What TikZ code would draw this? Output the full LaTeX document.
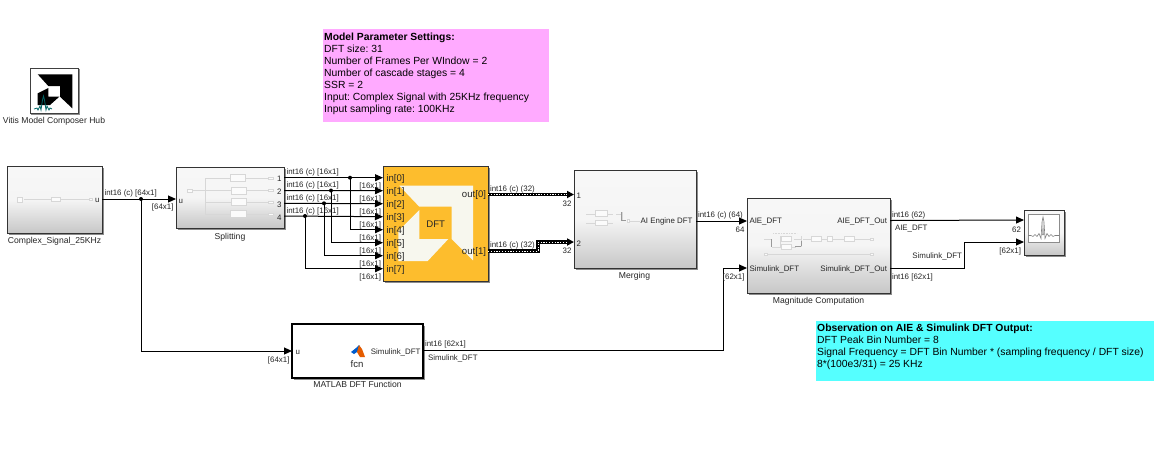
\documentclass[tikz,border=0pt]{standalone}
\usepackage{fontspec}
\setmainfont{Liberation Sans}
\usetikzlibrary{arrows.meta}
\frenchspacing
\definecolor{amdorange}{RGB}{253,189,45}
\definecolor{cream}{RGB}{247,247,238}
\definecolor{pinkbox}{RGB}{255,170,255}
\definecolor{cyanbox}{RGB}{85,255,255}
\definecolor{thumb}{RGB}{215,215,215}
\tikzset{
  lbl/.style={font=\fontsize{7.9}{10}\selectfont,text=black!85,inner sep=0pt,outer sep=0pt,yshift=-1pt},
  lblw/.style={lbl,anchor=west},
  lble/.style={lbl,anchor=east},
  captxt/.style={lbl,anchor=north,font=\fontsize{8.6}{10}\selectfont},
  portt/.style={lbl},
  dftp/.style={lblw,font=\fontsize{9.6}{11}\selectfont},
  sig/.style={draw=black,line width=1pt,-{Triangle[length=8pt,width=7pt]}},
  bus/.style={draw=black,line width=3.2pt,-{Triangle[length=7pt,width=7pt]}},
  busin/.style={draw=white,line width=1pt,dash pattern=on 1.2pt off 1.6pt},
  jdot/.style={circle,fill=black,inner sep=0pt,minimum size=4pt},
  note/.style={anchor=north west,inner sep=0pt,align=left,font=\fontsize{10.35}{12}\selectfont},
  th/.style={draw=thumb,line width=.6pt,fill=white!90!thumb},
  thl/.style={draw=thumb,line width=.6pt},
  thd/.style={draw=black!40,line width=.4pt},
}
\newcommand{\sblock}[5]{% name x1 y1 x2 y2
  \fill[black!45] (#2+1.5,#3+1.5) rectangle (#4+1.5,#5+1.5);
  \shade[top color=white!97!black,bottom color=black!22,middle color=black!4,draw=black!80,line width=1pt]
    (#2,#3) rectangle (#4,#5);
  \coordinate (#1nw) at (#2,#3);
}
\begin{document}
\begin{tikzpicture}[x=1pt,y=-1pt]
\useasboundingbox (0,0) rectangle (1161,451);
\fill[white] (0,0) rectangle (1161,451);

% notes
\node[note,fill=pinkbox,minimum width=226pt,minimum height=93pt,text depth=0pt] (pink) at (323,29) {};
\node[note] (pinktxt) at (324,32.5) {\textbf{Model Parameter Settings:}\\DFT size: 31\\Number of Frames Per WIndow = 2\\Number of cascade stages = 4\\SSR = 2\\Input: Complex Signal with 25KHz frequency\\Input sampling rate: 100KHz};
\node[note,fill=cyanbox,minimum width=338pt,minimum height=60pt] (cyan) at (816,321) {};
\node[note] (cyantxt) at (817,324) {\textbf{Observation on AIE \& Simulink DFT Output:}\\DFT Peak Bin Number = 8\\Signal Frequency = DFT Bin Number * (sampling frequency / DFT size)\\8*(100e3/31) = 25 KHz};

% hub
\fill[black!45] (31,69) rectangle (79.5,114.5);
\draw[black!75,line width=1pt,fill=white] (30,68) rectangle (78,113);
\fill[black] (37.7,74.3) -- (72.3,74.3) -- (72.3,108.3) -- (60,96.7) -- (60,86) -- (48.3,86) -- cycle;
\fill[black] (48.3,88) -- (48.3,96.7) -- (59.3,96.7) -- (50,105) -- (37.7,105) -- (37.7,93.3) -- cycle;
\draw[teal!80!black,line width=.8pt] (34,109) -- (37,108) -- (38,110) -- (40,106) -- (41,110) -- (42.5,100) -- (43.5,96) -- (44.5,100) -- (46,110) -- (47,106) -- (49,110) -- (50,108) -- (52,109);
\node[captxt] (hubcap) at (54,116.5) {Vitis Model Composer Hub};

% Complex signal
\sblock{cs}{7}{166}{102}{233}
\draw[thl] (24,199) -- (51,199) (60,199) -- (90,199);
\draw[th] (17,197) rectangle (22.5,202);
\draw[th] (51,197) rectangle (60.5,201.5);
\draw[th] (89.5,198) rectangle (92.5,200);
\node[portt,anchor=east] (csu) at (99.5,199.5) {u};
\coordinate (csout) at (102,199);
\node[captxt] (cscap) at (54.5,236) {Complex\_Signal\_25KHz};

% Splitting
\sblock{sp}{176}{167}{284}{228}
\draw[thl] (192,190.5) -- (205,190.5) (205,178) -- (205,214) (205,178) -- (230,178) (205,190.5) -- (231,190.5) (205,202) -- (231,202) (205,214) -- (230,214);
\draw[thl] (245,178) -- (268,178) (247,190.5) -- (268,190.5) (247,202) -- (268,202) (246,214) -- (268,214);
\draw[th] (187,189) rectangle (192.5,192);
\foreach \yy/\xa/\xb in {178/230.5/245.5,190.5/231.5/246.5,202/231.5/246.5,214/230.5/246}{\draw[th] (\xa,\yy-3.5) rectangle (\xb,\yy+3.5);\draw[th] (268,\yy-1) rectangle (273,\yy+1);}
\node[portt,anchor=west] (spu) at (178.5,200) {u};
\node[portt,anchor=east] (sp1) at (281.5,178) {1};
\node[portt,anchor=east] (sp2) at (281.5,191) {2};
\node[portt,anchor=east] (sp3) at (281.5,204) {3};
\node[portt,anchor=east] (sp4) at (281.5,216.5) {4};
\coordinate (spin) at (176,199);
\coordinate (spo1) at (284,177.7);
\coordinate (spo2) at (284,190.5);
\coordinate (spo3) at (284,203.3);
\coordinate (spo4) at (284,216);
\node[captxt] (spcap) at (230,232) {Splitting};

% DFT block
\fill[black!45] (384.5,167.5) rectangle (489.5,282.5);
\draw[draw=black!80,fill=amdorange,line width=1pt] (383,166) rectangle (488,281);
\fill[cream] (399.3,185.7) -- (473,185.7) -- (473,260.3) -- (451.7,239) -- (451.7,206.7) -- (419.3,206.7) -- cycle;
\fill[cream] (419.3,210) -- (419.3,239) -- (448.3,239) -- (427.7,261) -- (398.3,261) -- (398.3,231) -- cycle;
\node[lbl,font=\fontsize{9.6}{11}\selectfont] (dftname) at (435.7,223) {DFT};
\foreach \i/\yy in {0/178,1/191,2/204,3/217,4/230,5/243,6/256,7/269}{
  \node[dftp] (inl\i) at (386.5,\yy) {in[\i]};
  \coordinate (dftin\i) at (383,\yy-.3);
  \node[lble] (dl\i) at (381,\yy+7.5) {[16x1]};
}
\node[lble,font=\fontsize{9.6}{11}\selectfont] (o0) at (486,194.5) {out[0]};
\node[lble,font=\fontsize{9.6}{11}\selectfont] (o1) at (486,251.5) {out[1]};
\coordinate (dfto0) at (488,194.5);
\coordinate (dfto1) at (488,251);

% Merging
\sblock{mg}{574}{170}{696}{268}
\draw[thl] (586,214) -- (595,214) (607,214) -- (613,214) (616,214) -- (622,214) (622,212) -- (622,220) (627,221) -- (640,221) (586,223) -- (595,223) (607,223) -- (613,223);
\draw[th] (595,210.5) rectangle (607,216.5);
\draw[th] (595,220.5) rectangle (607,225.5);
\draw[th] (627,219.5) rectangle (629,222.5);
\draw[thd] (621.5,212) -- (621.5,220) -- (626,220);
\node[portt,anchor=east] (mgout) at (692.5,220.5) {AI Engine DFT};
\node[portt,anchor=west] (mg1) at (576.5,195) {1};
\node[portt,anchor=west] (mg2) at (576.5,243) {2};
\coordinate (mgi1) at (574,195);
\coordinate (mgi2) at (574,242);
\coordinate (mgo) at (696,221);
\node[captxt] (mgcap) at (634.5,271) {Merging};

% Magnitude
\sblock{mc}{747}{198}{890}{293}
\draw[thl] (764,239) -- (772,239) (780,236) -- (780,248) (780,239) -- (781,239) (794,239) -- (801,239) (801,236) -- (801,247) (803,239) -- (811,239) (821,239) -- (827,239) (832,239) -- (844,239) (854,239) -- (870,239) (765,254.5) -- (870,254.5) (772,247) -- (781,247) (791,247) -- (796,247);
\draw[thl,densely dotted] (773,233) -- (797,233);
\draw[thd] (771,239) -- (771,247) (795,246) -- (801,246) (801,241) -- (801,246);
\draw[th] (781,236.5) rectangle (791,241.5);
\draw[th] (781,244.5) rectangle (791,249.5);
\draw[th] (811,236.5) rectangle (821,241.5);
\draw[th] (827,236.5) rectangle (832,241.5);
\draw[th] (844,236.5) rectangle (854,241.5);
\draw[th] (870,238) rectangle (873,240);
\draw[th] (764,253.5) rectangle (767,255.5);
\draw[th] (870,253.5) rectangle (873,255.5);
\node[portt,anchor=west] (mci1) at (749.5,221) {AIE\_DFT};
\node[portt,anchor=west] (mci2) at (749.5,268.5) {Simulink\_DFT};
\node[portt,anchor=east] (mco1) at (887,221) {AIE\_DFT\_Out};
\node[portt,anchor=east] (mco2) at (887,268.5) {Simulink\_DFT\_Out};
\coordinate (mcin1) at (747,221);
\coordinate (mcin2) at (747,268);
\coordinate (mcout1) at (890,220.5);
\coordinate (mcout2) at (890,268);
\node[captxt] (mccap) at (818.5,296) {Magnitude Computation};

% Scope
\sblock{sc}{1024}{210}{1064}{255}
\draw[black!45,line width=.6pt,fill=white] (1028,214) rectangle (1059,242);
\draw[black!50,line width=.6pt] (1028,235.5) -- (1031,235.5) -- (1033,236.5) -- (1035,234.5) -- (1037,236.5) -- (1039,233.5) -- (1041,238.5) -- (1042,222) -- (1043,217) -- (1044,222) -- (1045,238.5) -- (1047,233.5) -- (1049,236.5) -- (1051,234.5) -- (1053,236.5) -- (1055,235.5) -- (1059,235.5);
\fill[black!40] (1042.2,235) -- (1043,217) -- (1043.8,235) -- cycle;
\coordinate (scin1) at (1024,220);
\coordinate (scin2) at (1024,242);

% MATLAB
\fill[black!45] (293.5,325.5) rectangle (424.5,379.5);
\draw[draw=black,fill=white,line width=1.8pt] (292,324) rectangle (423,378);
\fill[blue!55!cyan!80!black] (351,352) -- (356,348) -- (359,345) -- (361,349) -- (357,352) -- (354,354) -- cycle;
\fill[orange!80!red!90!black] (359,345) -- (362,349) -- (365,357) -- (360,357) -- (357,352) -- cycle;
\node[lbl,font=\fontsize{9.6}{11}\selectfont] (fcn) at (357,363) {fcn};
\node[portt,anchor=east] (mlo) at (420.5,351) {Simulink\_DFT};
\node[portt,anchor=west] (mlu) at (295.5,351) {u};
\coordinate (mlin) at (292,351);
\coordinate (mlout) at (423,350);
\node[captxt] (mlcap) at (357.5,380.5) {MATLAB DFT Function};

% bends and junctions
\coordinate (c1) at (141,199);
\coordinate (c1b) at (141,351);
\coordinate (b0) at (538,251);
\coordinate (b1) at (538,242);
\coordinate (v1) at (723,350);
\coordinate (v2) at (723,268);
\coordinate (s1) at (964,268);
\coordinate (s2) at (964,242);
\coordinate (j0) at (350,177.7);
\coordinate (j1) at (331,190.5);
\coordinate (j2) at (324,203.3);
\coordinate (j3) at (305,216);

% connectors
\draw[sig] (csout) -- (spin);
\draw[sig] (c1) -- (c1b) -- (mlin);
\node[jdot] (jc) at (c1) {};
\draw[sig] (spo1) -- (dftin0);
\draw[sig] (spo2) -- (dftin1);
\draw[sig] (spo3) -- (dftin2);
\draw[sig] (spo4) -- (dftin3);
\draw[sig] (j0) |- (dftin4);
\draw[sig] (j1) |- (dftin5);
\draw[sig] (j2) |- (dftin6);
\draw[sig] (j3) |- (dftin7);
\node[jdot] (jd0) at (j0) {};
\node[jdot] (jd1) at (j1) {};
\node[jdot] (jd2) at (j2) {};
\node[jdot] (jd3) at (j3) {};
\draw[bus] (dfto0) -- (mgi1 |- dfto0);
\draw[busin] (dfto0) -- ([xshift=-7pt]mgi1 |- dfto0);
\draw[bus] (dfto1) -- (b0) -- (b1) -- (mgi2);
\draw[busin] (dfto1) -- (b0) -- (b1) -- ([xshift=-7pt]mgi2);
\draw[sig] (mgo) -- (mcin1);
\draw[sig] (mcout1) -- (scin1);
\draw[sig] (mlout) -- (v1) -- (v2) -- (mcin2);
\draw[sig] (mcout2) -- (s1) -- (s2) -- (scin2);

% signal labels
\node[lblw] (t1) at (104.5,192) {int16 (c) [64x1]};
\node[lble] (t2) at (173.5,206.5) {[64x1]};
\node[lblw] (t3) at (286.5,171) {int16 (c) [16x1]};
\node[lblw] (t4) at (286.5,184) {int16 (c) [16x1]};
\node[lblw] (t5) at (286.5,197) {int16 (c) [16x1]};
\node[lblw] (t6) at (286.5,210) {int16 (c) [16x1]};
\node[lblw] (t7) at (490,188) {int16 (c) (32)};
\node[lblw] (t8) at (490,244) {int16 (c) (32)};
\node[lble] (t9) at (571.5,202.5) {32};
\node[lble] (t10) at (571.5,250) {32};
\node[lblw] (t11) at (698,214) {int16 (c) (64)};
\node[lble] (t12) at (744.5,229) {64};
\node[lble] (t13) at (744.5,276) {[62x1]};
\node[lblw] (t14) at (892,214) {int16 (62)};
\node[lblw] (t15) at (895,227.5) {AIE\_DFT};
\node[lblw] (t16) at (892,276) {int16 [62x1]};
\node[lble] (t17) at (962,255.5) {Simulink\_DFT};
\node[lble] (t18) at (1021,228.5) {62};
\node[lble] (t19) at (1021,250) {[62x1]};
\node[lble] (t20) at (289.5,359) {[64x1]};
\node[lblw] (t21) at (425,343.5) {int16 [62x1]};
\node[lblw] (t22) at (428,357.5) {Simulink\_DFT};
\end{tikzpicture}
\end{document}
